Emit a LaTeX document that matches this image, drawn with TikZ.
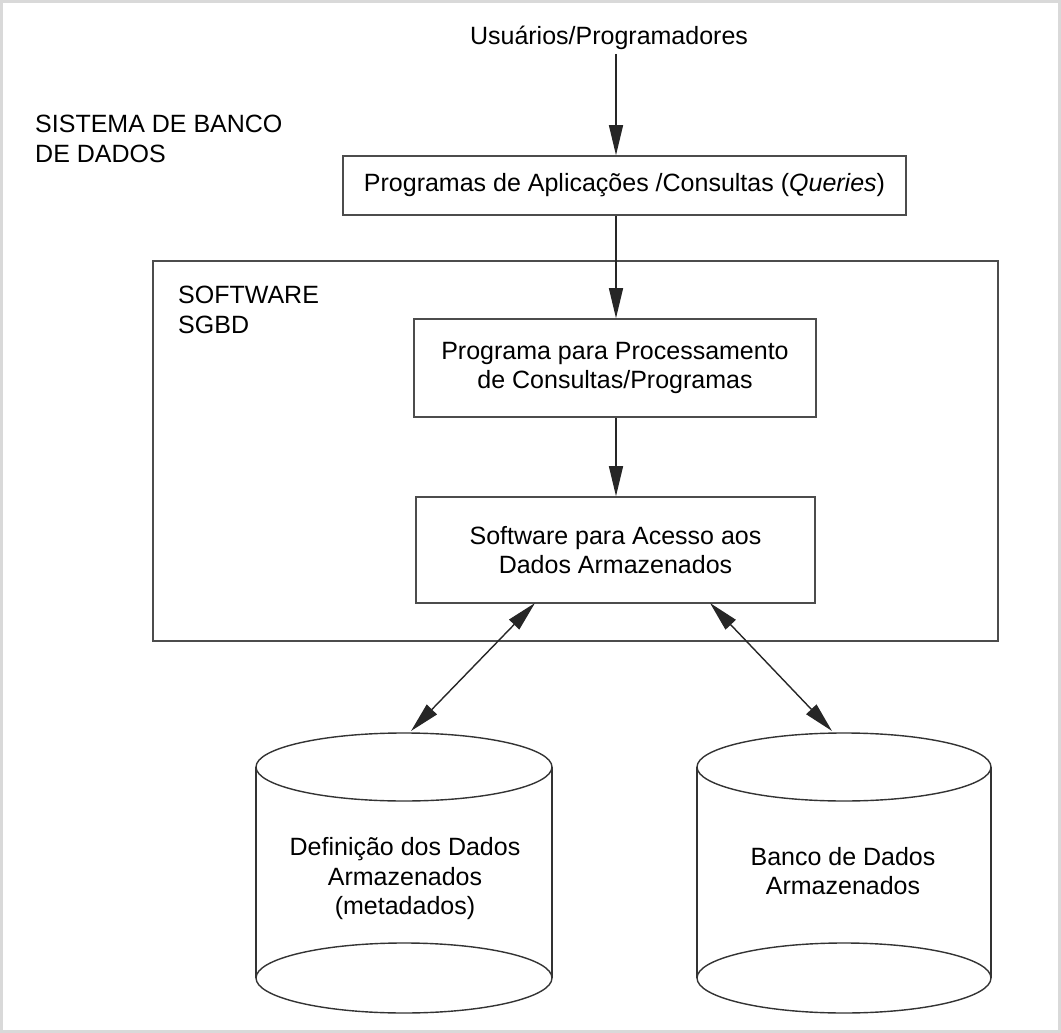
\documentclass[tikz,border=0pt]{standalone}
\usepackage{fontspec}
\setmainfont{Liberation Sans}
\usetikzlibrary{arrows.meta}
\begin{document}
\begin{tikzpicture}[x=1pt,y=-1pt,
  every node/.style={font=\fontsize{25}{29.5}\selectfont, inner sep=0pt},
  boxnode/.style={draw=black!70, line width=1.6pt, align=center},
  txt/.style={align=center},
  lbl/.style={align=left, anchor=west},
  arr/.style={draw=black!85, line width=1.4pt, -{Triangle[length=30pt,width=14pt]}},
  darr/.style={draw=black!85, line width=1.4pt, {Triangle[length=30pt,width=14pt]}-{Triangle[length=30pt,width=14pt]}},
  cylline/.style={draw=black!80, line width=1.4pt},
  frameline/.style={draw=black!15, line width=3pt}]
\useasboundingbox (0,0) rectangle (1061,1033);
\draw[frameline] (1.5,1.5) rectangle (1059.5,1031.5);

% texts
\node[txt] (user) at (609,38) {Usuários/Programadores};
\node[lbl] (sis) at (35,139) {SISTEMA DE BANCO\\DE DADOS};

% outer SGBD box
\node[draw=black!70, line width=1.6pt, minimum width=845pt, minimum height=380pt] (outer) at (575.5,451) {};
\node[lbl] (sgbd) at (178,310) {SOFTWARE\\SGBD};

% boxes
\node[boxnode, minimum width=563pt, minimum height=59pt] (box1) at (624.5,185.5) {Programas de Aplicações /Consultas (\textit{Queries})};
\node[boxnode, minimum width=402pt, minimum height=98pt] (box2) at (615,368) {Programa para Processamento\\de Consultas/Programas};
\node[boxnode, minimum width=399pt, minimum height=106pt] (box3) at (615.5,550) {Software para Acesso aos\\Dados Armazenados};

% cylinders
\draw[cylline] (256,767) -- (256,978) (552,767) -- (552,978);
\draw[cylline, fill=white] (404,767) ellipse [x radius=148pt, y radius=34pt];
\draw[cylline] (404,978) ellipse [x radius=148pt, y radius=35pt];
\node[txt] (cyl1) at (405,879) {Definição dos Dados\\Armazenados\\(metadados)};

\draw[cylline] (697,767) -- (697,978) (991,767) -- (991,978);
\draw[cylline, fill=white] (844,767) ellipse [x radius=147pt, y radius=34pt];
\draw[cylline] (844,978) ellipse [x radius=147pt, y radius=35pt];
\node[txt] (cyl2) at (843,871) {Banco de Dados\\Armazenados};

% connector coordinates
\coordinate (ax) at (616,0);
\coordinate (b3l) at (535,603);
\coordinate (b3r) at (710,603);
\coordinate (c1top) at (411,731);
\coordinate (c2top) at (832,731);

% connectors
\draw[arr] ([yshift=-4pt]user.south -| ax) -- (box1.north -| ax);
\draw[arr] (box1.south -| ax) -- (box2.north -| ax);
\draw[arr] (box2.south -| ax) -- (box3.north -| ax);
\draw[darr] (b3l) -- (c1top);
\draw[darr] (b3r) -- (c2top);
\end{tikzpicture}
\end{document}
